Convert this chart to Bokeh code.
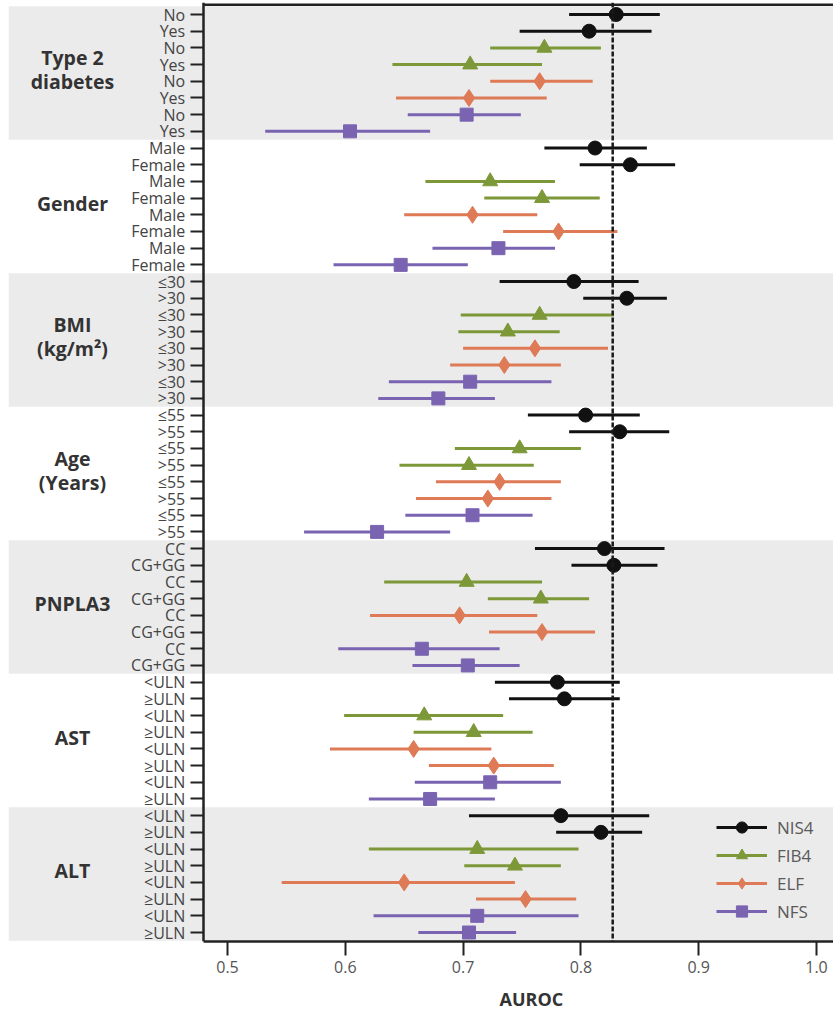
from bokeh.plotting import figure
from bokeh.models import (ColumnDataSource, LinearAxis, FixedTicker, Span, Title,
                          Legend, LegendItem, Range1d)
from bokeh.core.properties import value
from bokeh.embed import file_html
from bokeh.resources import INLINE

# ---------------- data ----------------
groups = ["Type 2\ndiabetes", "Gender", "BMI\n(kg/m\u00b2)", "Age\n(Years)", "PNPLA3", "AST", "ALT"]
levels = [["No", "Yes"], ["Male", "Female"], ["\u226430", ">30"], ["\u226455", ">55"],
          ["CC", "CG+GG"], ["<ULN", "\u2265ULN"], ["<ULN", "\u2265ULN"]]
methods = ["NIS4", "FIB4", "ELF", "NFS"]

nis4_auc = [0.830, 0.807, 0.812, 0.842, 0.794, 0.839, 0.804, 0.833, 0.820, 0.828, 0.780, 0.786, 0.783, 0.817]
nis4_lo  = [0.790, 0.748, 0.769, 0.799, 0.731, 0.802, 0.755, 0.790, 0.761, 0.792, 0.727, 0.739, 0.705, 0.779]
nis4_hi  = [0.867, 0.860, 0.856, 0.880, 0.849, 0.873, 0.850, 0.875, 0.871, 0.865, 0.833, 0.833, 0.858, 0.852]

fib4_auc = [0.769, 0.706, 0.723, 0.767, 0.765, 0.738, 0.748, 0.705, 0.703, 0.766, 0.667, 0.709, 0.712, 0.744]
fib4_lo  = [0.723, 0.640, 0.668, 0.718, 0.698, 0.696, 0.693, 0.646, 0.633, 0.721, 0.599, 0.658, 0.620, 0.701]
fib4_hi  = [0.817, 0.767, 0.778, 0.816, 0.828, 0.782, 0.800, 0.760, 0.767, 0.807, 0.734, 0.759, 0.798, 0.783]

elf_auc = [0.765, 0.705, 0.708, 0.781, 0.761, 0.735, 0.731, 0.721, 0.697, 0.767, 0.658, 0.726, 0.650, 0.753]
elf_lo  = [0.723, 0.643, 0.650, 0.734, 0.700, 0.689, 0.677, 0.660, 0.621, 0.722, 0.587, 0.671, 0.546, 0.711]
elf_hi  = [0.810, 0.771, 0.763, 0.831, 0.823, 0.783, 0.783, 0.775, 0.763, 0.812, 0.724, 0.777, 0.744, 0.796]

nfs_auc = [0.703, 0.604, 0.730, 0.647, 0.706, 0.679, 0.708, 0.627, 0.665, 0.704, 0.723, 0.672, 0.712, 0.705]
nfs_lo  = [0.653, 0.532, 0.674, 0.590, 0.637, 0.628, 0.651, 0.565, 0.594, 0.657, 0.659, 0.620, 0.624, 0.662]
nfs_hi  = [0.749, 0.672, 0.778, 0.704, 0.775, 0.727, 0.759, 0.689, 0.731, 0.748, 0.783, 0.727, 0.798, 0.745]

reference_auc = 0.827
x_ticks = [0.5, 0.6, 0.7, 0.8, 0.9, 1.0]

# ---------------- styling ----------------
colors = ["#111111", "#7d9838", "#de7a56", "#7a64b2"]
markers = ["circle", "triangle", "diamond", "square"]
msizes = [14, 15, 17, 13]
band_color = "#ebebeb"

series = [(nis4_auc, nis4_lo, nis4_hi), (fib4_auc, fib4_lo, fib4_hi),
          (elf_auc, elf_lo, elf_hi), (nfs_auc, nfs_lo, nfs_hi)]

n_groups = len(groups)
rows_per_group = 2 * len(methods)
n_rows = n_groups * rows_per_group
top_val = n_rows - 1            # y of first row

X0, X1 = 0.31409, 1.01444
Y0, Y1 = -0.539, top_val + 0.719
AXIS_X = 0.4794
FRAME_TOP_Y = top_val + 0.581

p = figure(width=833, height=1020, output_backend="svg", toolbar_location=None,
           x_range=Range1d(X0, X1), y_range=Range1d(Y0, Y1),
           y_axis_location=None, min_border_left=8, min_border_right=0,
           min_border_top=2, min_border_bottom=79, outline_line_color=None,
           background_fill_color="white", border_fill_color="white")
p.xgrid.visible = False
p.ygrid.visible = False

# shaded bands for alternate groups
bt, bb = [], []
for g in range(0, n_groups, 2):
    top = top_val + 0.5 - g * rows_per_group
    bot = top - rows_per_group
    bt.append(min(top, FRAME_TOP_Y))
    bb.append(max(bot, Y0))
p.quad(left=X0, right=X1, top=bt, bottom=bb, fill_color=band_color, line_color=None)

# reference line
p.add_layout(Span(location=reference_auc, dimension="height", line_color="#1a1a1a",
                  line_width=2.5, line_dash="5 2"))

# top frame line
p.segment(x0=[AXIS_X], x1=[X1], y0=[FRAME_TOP_Y], y1=[FRAME_TOP_Y], line_color="#222222", line_width=2.5)

legend_items = []
for m, (auc, lo, hi) in enumerate(series):
    ys, xs, l0, h0 = [], [], [], []
    for g in range(n_groups):
        for l in range(2):
            row = g * rows_per_group + 2 * m + l
            ys.append(top_val - row)
            xs.append(auc[2 * g + l])
            l0.append(lo[2 * g + l])
            h0.append(hi[2 * g + l])
    src = ColumnDataSource(dict(y=ys, x=xs, lo=l0, hi=h0))
    seg = p.segment(x0="lo", x1="hi", y0="y", y1="y", source=src, line_color=colors[m], line_width=3)
    sc = p.scatter(x="x", y="y", source=src, marker=markers[m], size=msizes[m],
                   fill_color=colors[m], line_color=colors[m])
    legend_items.append(LegendItem(label=methods[m], renderers=[seg, sc]))

# group labels
gy = [top_val - g * rows_per_group - (rows_per_group - 1) / 2 + 0.2 for g in range(n_groups)]
p.text(x=[0.3684] * n_groups, y=gy, text=groups, text_align="center", text_baseline="middle",
       text_font=value("Open Sans"), text_font_style="bold", text_font_size="19.5px",
       text_color="#333333", text_line_height=0.9)

# y axis with subgroup labels
ticks = []
overrides = {}
for g in range(n_groups):
    for m in range(len(methods)):
        for l in range(2):
            row = g * rows_per_group + 2 * m + l
            yv = top_val - row
            ticks.append(yv)
            overrides[yv] = levels[g][l]
yaxis = LinearAxis(fixed_location=AXIS_X, ticker=FixedTicker(ticks=ticks),
                   major_label_overrides=overrides, minor_tick_line_color=None,
                   major_tick_out=13, major_tick_in=0, major_tick_line_width=2,
                   major_tick_line_color="#222222", axis_line_width=2.5, axis_line_color="#222222",
                   major_label_text_font="Open Sans", major_label_text_font_size="16px",
                   major_label_text_color="#444444", major_label_standoff=5)
p.add_layout(yaxis, "left")

# x axis
xa = p.xaxis[0]
xa.ticker = FixedTicker(ticks=x_ticks)
xa.major_label_overrides = {t: f"{t:.1f}" for t in x_ticks}
xa.bounds = (AXIS_X, X1)
xa.minor_tick_line_color = None
xa.major_tick_out = 14
xa.major_tick_in = 0
xa.major_tick_line_width = 2
xa.major_tick_line_color = "#222222"
xa.axis_line_width = 2.5
xa.axis_line_color = "#222222"
xa.major_label_text_font = "Open Sans"
xa.major_label_text_font_size = "16px"
xa.major_label_text_color = "#555555"
xa.major_label_standoff = 5

p.add_layout(Title(text="AUROC", align="left", offset=491, standoff=19,
                   text_font="Open Sans", text_font_style="bold", text_font_size="18px",
                   text_color="#333333"), "below")

legend = Legend(items=legend_items, location=(708, 16), orientation="vertical",
                glyph_width=51, glyph_height=28, label_height=20, spacing=0,
                label_standoff=10, padding=0, margin=0, border_line_color=None,
                background_fill_alpha=0, label_text_font="Open Sans",
                label_text_font_size="17px", label_text_color="#5a5a5a")
p.add_layout(legend, "center")

open("out.html", "w").write(file_html(p, INLINE))
